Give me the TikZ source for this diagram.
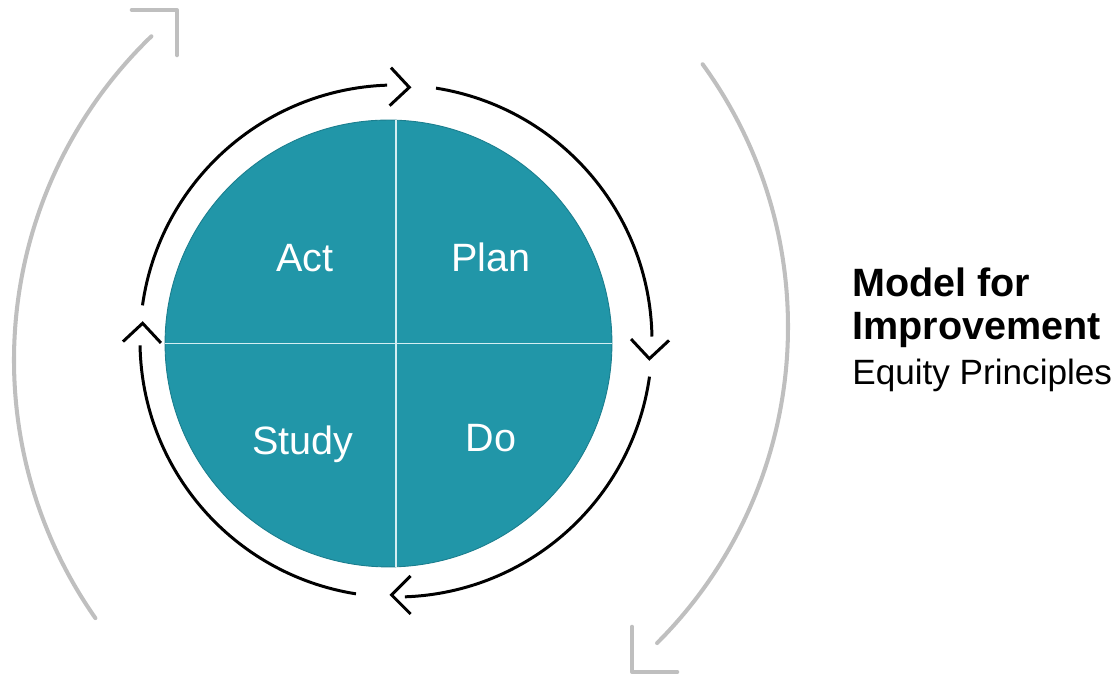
\documentclass[tikz,border=0pt]{standalone}
\usepackage{fontspec}
\setmainfont{Liberation Sans}
\usepackage{xcolor}
\usepackage{tikz}
\usetikzlibrary{
    positioning,
    calc
}
\definecolor{wheelteal}{HTML}{2196A8}
\definecolor{wheeledge}{HTML}{1B7E8E}
\definecolor{wheeldivider}{HTML}{D4EEF2}
\definecolor{loopgray}{HTML}{BFBFBF}
\tikzset{
    quad_label/.style={
        font=\fontsize{22.5}{27}\selectfont, text=white,
        inner sep=0pt, anchor=base
    },
    cycle_arc/.style={
        draw=black, line width=1.7pt
    },
    outer_arc/.style={
        draw=loopgray, line width=2.3pt, line cap=round, line join=round
    },
    divider/.style={
        draw=wheeldivider, line width=0.8pt
    },
    heading/.style={
        font=\fontsize{22.5}{27}\selectfont\bfseries,
        inner sep=0pt, anchor=base west
    },
    subheading/.style={
        font=\fontsize{20}{24}\selectfont,
        inner sep=0pt, anchor=base west
    },
    pics/chevron/.style={
        code={\draw[pic actions] (-#1,#1) -- (0,0) -- (-#1,-#1);}
    }
}
\begin{document}
\begin{tikzpicture}[x=0.02cm, y=0.02cm]
    \useasboundingbox (0,0) rectangle (1117,675);

    % --- WHEEL ---
    \node[circle, fill=wheelteal, draw=wheeledge, line width=0.5pt,
          minimum size=8.94cm, inner sep=0pt] (wheel) at (388.5,331.5) {};
    \draw[divider] ([xshift=0.15cm]wheel.north) -- ([xshift=0.15cm]wheel.south);
    \draw[divider] (wheel.west) -- (wheel.east);

    \node[quad_label] (act) at (305,403) {Act};
    \node[quad_label] (plan) at (491,403) {Plan};
    \node[quad_label] (study) at (303,220) {Study};
    \node[quad_label] (do) at (491,223) {Do};

    % --- PDSA RING ---
    \coordinate (ring) at (396,334);
    \foreach \from/\to in {172/92, 81/1, -8/-88, -99/-179}
        \draw[cycle_arc] ([shift={(\from:256)}]ring) arc[start angle=\from, end angle=\to, radius=256];
    \foreach \ang/\rot in {87/-2, -4/-92, -91/180, 176/88}
        \pic[cycle_arc, rotate=\rot] at ([shift={(\ang:254)}]ring) {chevron=19};

    % --- OUTER LOOP ---
    \coordinate (left_loop) at (464,315);
    \coordinate (right_loop) at (341,348);
    \draw[outer_arc] ([shift={(215:450)}]left_loop) arc[start angle=215, end angle=134, radius=450];
    \draw[outer_arc] ([shift={(36:447)}]right_loop) arc[start angle=36, end angle=-45, radius=447];
    \pic[outer_arc, rotate=45] at (177,665) {chevron=32};
    \pic[outer_arc, rotate=225] at (632,3) {chevron=32};

    % --- TITLE ---
    \node[heading] (model) at (852,378) {Model for};
    \node[heading] (improve) at ([yshift=-0.86cm]model.base west) {Improvement};
    \node[subheading] (equity) at ([yshift=-0.9cm]improve.base west) {Equity Principles};

\end{tikzpicture}
\end{document}
